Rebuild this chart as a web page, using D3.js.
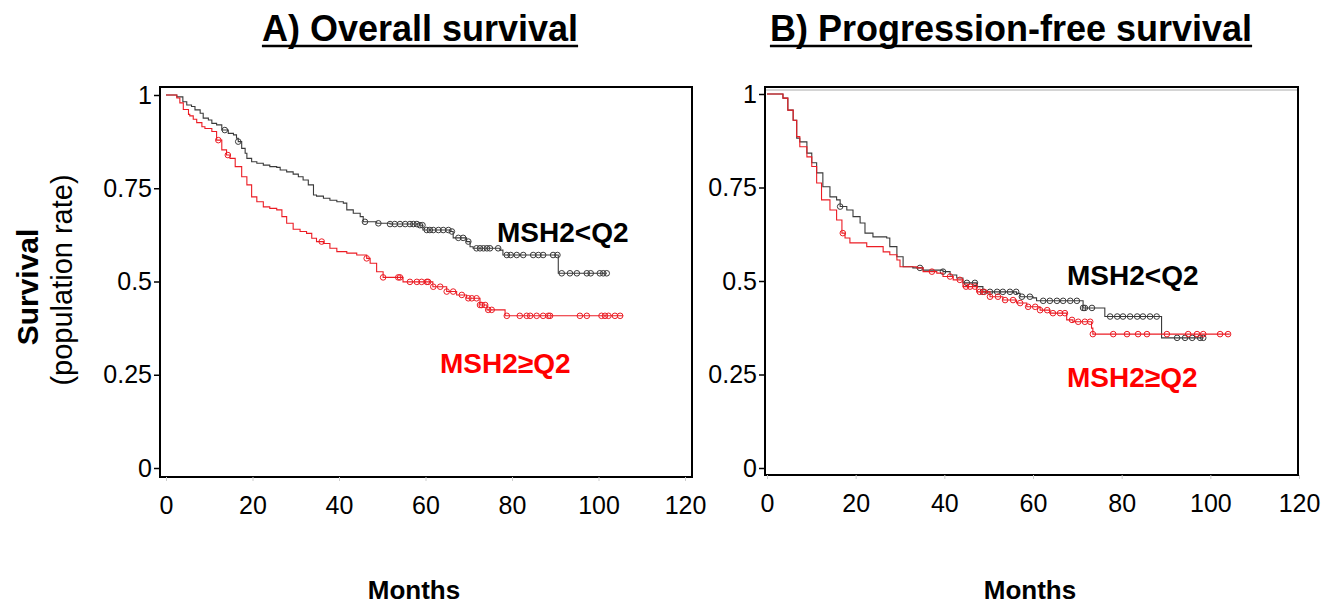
<!DOCTYPE html>
<html>
<head>
<meta charset="utf-8">
<script src="https://cdn.jsdelivr.net/npm/d3@7"></script>
<style>
  body { margin: 0; background: #fff; }
  svg { display: block; font-family: "Liberation Sans", Arial, sans-serif; }
</style>
</head>
<body>
<svg id="chart" width="1328" height="607"></svg>
<script>
// ---- data (months, survival after each step) ----

// A) overall survival, MSH2<Q2
const osLowTime = [2.5, 3.9, 4.8, 5.9, 6.7, 7.9, 8.6, 9.8, 10.6, 11.7, 12.9, 14.4, 15.6, 16.3, 16.7, 17.5, 18.3, 18.7,
  19.8, 21.0, 22.5, 24.0, 25.6, 26.4, 27.9, 29.4, 30.6, 31.7, 32.9, 34.1, 34.8, 36.4, 37.9, 39.5, 41.0, 41.8, 43.3,
  44.9, 45.6, 48.7, 51.8, 58.7, 59.4, 65.7, 66.4, 69.5, 70.3, 71.0, 77.2, 77.9, 90.7];
const osLowSurv = [0.995, 0.982, 0.973, 0.969, 0.960, 0.951, 0.938, 0.933, 0.924, 0.920, 0.906, 0.897, 0.893, 0.884,
  0.875, 0.857, 0.844, 0.830, 0.821, 0.817, 0.812, 0.808, 0.806, 0.799, 0.794, 0.788, 0.781, 0.772, 0.759, 0.732,
  0.729, 0.723, 0.718, 0.714, 0.710, 0.692, 0.683, 0.674, 0.660, 0.656, 0.654, 0.651, 0.638, 0.634, 0.617, 0.607,
  0.593, 0.589, 0.584, 0.571, 0.522];
const osLowEnd = 101.9;
const osLowCensor = [13.6, 16.7, 46.0, 49.1, 51.8, 52.9, 54.1, 55.3, 56.4, 57.2, 58.0, 58.7, 59.3, 60.3, 61.0, 61.8,
  63.0, 64.1, 65.3, 66.1, 67.6, 68.7, 69.9, 71.8, 72.6, 73.4, 74.2, 74.9, 76.8, 78.8, 79.7, 81.1, 82.6, 84.9, 86.1,
  87.2, 89.5, 90.5, 91.5, 93.4, 95.0, 97.3, 98.2, 100.3, 101.1, 101.9];

// A) overall survival, MSH2>=Q2
const osHighTime = [2.5, 3.2, 4.0, 5.2, 5.5, 6.3, 7.1, 8.3, 9.0, 10.6, 11.7, 12.9, 14.0, 14.8, 16.0, 17.5, 18.7,
  19.8, 21.0, 22.5, 24.0, 25.6, 26.8, 27.9, 29.4, 31.0, 32.5, 33.7, 34.8, 36.4, 37.9, 39.5, 41.8, 44.1, 46.4, 47.2,
  48.7, 50.2, 54.8, 61.7, 64.9, 67.2, 69.5, 72.6, 74.2, 78.4];
const osHighSurv = [0.992, 0.979, 0.961, 0.948, 0.944, 0.935, 0.926, 0.915, 0.910, 0.902, 0.879, 0.853, 0.839, 0.830,
  0.808, 0.781, 0.759, 0.727, 0.714, 0.700, 0.696, 0.692, 0.674, 0.656, 0.640, 0.634, 0.629, 0.616, 0.607, 0.602,
  0.589, 0.580, 0.576, 0.571, 0.562, 0.549, 0.526, 0.511, 0.499, 0.486, 0.473, 0.464, 0.455, 0.437, 0.424, 0.408];
const osHighEnd = 105.7;
const osHighCensor = [12.1, 14.3, 36.0, 46.4, 50.2, 53.7, 54.1, 56.4, 58.0, 59.1, 60.3, 60.6, 61.8, 63.4, 64.9, 66.4,
  68.4, 69.9, 70.7, 71.8, 72.6, 73.0, 73.8, 74.5, 75.3, 78.8, 81.8, 83.4, 84.2, 85.7, 87.2, 88.4, 88.8, 95.7, 97.3,
  100.7, 101.5, 102.3, 103.8, 105.0];

// B) progression-free survival, MSH2<Q2
const pfsLowTime = [3.6, 4.7, 5.9, 6.7, 7.4, 9.0, 10.1, 11.2, 12.6, 14.2, 15.7, 16.5, 18.0, 19.4, 21.0, 22.1, 23.9,
  27.0, 27.7, 29.3, 30.7, 32.9, 35.2, 39.7, 41.3, 42.8, 44.2, 47.3, 48.7, 56.3, 57.1, 60.0, 60.8, 71.3, 76.2, 89.0];
const pfsLowSurv = [0.989, 0.957, 0.930, 0.882, 0.872, 0.842, 0.816, 0.789, 0.752, 0.725, 0.717, 0.699, 0.690, 0.672,
  0.655, 0.628, 0.618, 0.615, 0.592, 0.565, 0.538, 0.535, 0.529, 0.525, 0.516, 0.508, 0.495, 0.485, 0.471, 0.467,
  0.458, 0.455, 0.447, 0.428, 0.405, 0.348];
const pfsLowEnd = 98.4;
const pfsLowCensor = [16.5, 34.5, 39.7, 45.1, 46.9, 48.7, 50.3, 51.9, 53.2, 54.8, 56.2, 57.5, 59.3, 62.3, 63.8, 65.4,
  66.8, 68.4, 69.9, 71.3, 71.7, 73.3, 77.4, 79.0, 80.3, 81.9, 83.5, 84.8, 86.4, 87.9, 92.5, 94.3, 95.9, 97.7, 98.4];

// B) progression-free survival, MSH2>=Q2
const pfsHighTime = [3.6, 4.7, 5.9, 6.7, 7.4, 9.0, 10.1, 11.2, 12.3, 14.2, 15.7, 16.9, 17.6, 18.7, 22.5, 26.2, 27.7,
  29.3, 30.0, 33.8, 35.2, 38.3, 39.7, 42.0, 44.2, 47.3, 50.3, 53.2, 56.3, 58.6, 61.6, 63.8, 67.6, 69.0, 73.2, 73.5];
const pfsHighSurv = [0.989, 0.957, 0.930, 0.886, 0.859, 0.832, 0.806, 0.762, 0.717, 0.690, 0.663, 0.628, 0.615, 0.602,
  0.592, 0.578, 0.570, 0.556, 0.538, 0.535, 0.525, 0.521, 0.512, 0.503, 0.485, 0.471, 0.458, 0.449, 0.441, 0.431,
  0.422, 0.414, 0.396, 0.391, 0.374, 0.358];
const pfsHighEnd = 104.4;
const pfsHighCensor = [17.1, 37.2, 41.3, 43.5, 44.9, 45.8, 46.9, 48.0, 49.0, 50.3, 52.1, 53.7, 55.5, 57.1, 58.9, 60.5,
  61.6, 63.2, 64.5, 66.1, 67.2, 68.8, 70.2, 71.7, 72.9, 73.5, 78.1, 81.2, 83.7, 85.7, 90.2, 95.0, 97.0, 98.4, 102.2,
  104.0];

const xTicks = [0, 20, 40, 60, 80, 100, 120];
const yTicks = [0, 0.25, 0.5, 0.75, 1];
const groupLabels = ["MSH2<Q2", "MSH2\u2265Q2"];

// ---- helpers ----
const lowColor = "#3a3a3a";
const highColor = "#ec1c24";

// step points of a Kaplan-Meier curve
function kmPoints(times, surv, end) {
  const pts = [[0, 1]];
  times.forEach((t, i) => pts.push([t, surv[i]]));
  pts.push([end, surv[surv.length - 1]]);
  return pts;
}

// survival level at a given time (for placing censor marks)
function survAt(times, surv, t) {
  let s = 1;
  times.forEach((ti, i) => { if (ti <= t) s = surv[i]; });
  return s;
}

const svg = d3.select("#chart");

function drawPanel(p) {
  const g = svg.append("g");
  const x = d3.scaleLinear().domain([0, 120]).range(p.xRange);
  const y = d3.scaleLinear().domain([0, 1]).range(p.yRange);

  // title with underline
  const title = g.append("text")
    .attr("x", p.titleX)
    .attr("y", 41)
    .attr("text-anchor", "middle")
    .style("font-size", "36px")
    .style("font-weight", "bold")
    .text(p.title);
  const tw = title.node().getComputedTextLength();
  g.append("line")
    .attr("x1", p.titleX - tw / 2).attr("x2", p.titleX + tw / 2)
    .attr("y1", 46).attr("y2", 46)
    .attr("stroke", "#000").attr("stroke-width", 2.5);

  // plot box
  g.append("rect")
    .attr("x", p.box.l).attr("y", p.box.t)
    .attr("width", p.box.r - p.box.l).attr("height", p.box.b - p.box.t)
    .attr("fill", "#fff").attr("stroke", "#000").attr("stroke-width", 2);
  if (p.topRule) {
    g.append("line")
      .attr("x1", p.box.l + 1).attr("x2", p.box.r - 1)
      .attr("y1", p.box.t + 3).attr("y2", p.box.t + 3)
      .attr("stroke", "#aaa").attr("stroke-width", 1);
  }

  // axes
  const yAxis = g.append("g")
    .attr("transform", `translate(${p.box.l},0)`)
    .call(d3.axisLeft(y).tickValues(yTicks).tickFormat(d3.format("~g")).tickSize(6).tickPadding(2));
  yAxis.select(".domain").remove();
  yAxis.selectAll("line").attr("stroke", "#000").attr("stroke-width", 1.5);
  yAxis.selectAll("text").attr("fill", "#000").style("font-size", "25px").style("font-family", "inherit");

  const xAxis = g.append("g")
    .attr("transform", `translate(0,${p.box.b})`)
    .call(d3.axisBottom(x).tickValues(xTicks).tickSize(4).tickPadding(15));
  xAxis.select(".domain").remove();
  xAxis.selectAll("line").attr("stroke", "#ccc");
  xAxis.selectAll("text").attr("fill", "#000").style("font-size", "25px").style("font-family", "inherit");

  g.append("text")
    .attr("x", p.monthsX).attr("y", 599)
    .attr("text-anchor", "middle")
    .style("font-size", "26px").style("font-weight", "bold")
    .text("Months");

  // curves
  const line = d3.line().x(d => x(d[0])).y(d => y(d[1])).curve(d3.curveStepAfter);
  p.series.forEach(s => {
    g.append("path")
      .datum(kmPoints(s.time, s.surv, s.end))
      .attr("fill", "none")
      .attr("stroke", s.color)
      .attr("stroke-width", 1.1)
      .attr("d", line);
    g.append("g").selectAll("circle")
      .data(s.censor)
      .join("circle")
      .attr("cx", d => x(d))
      .attr("cy", d => y(survAt(s.time, s.surv, d)))
      .attr("r", 2.8)
      .attr("fill", "none")
      .attr("stroke", s.color)
      .attr("stroke-width", 1);
  });

  // group labels
  p.labels.forEach((l, i) => {
    g.append("text")
      .attr("x", l.x).attr("y", l.y)
      .attr("fill", i === 0 ? "#000" : "#ff0000")
      .style("font-size", "28px").style("font-weight", "bold")
      .text(groupLabels[i]);
  });
}

drawPanel({
  title: "A) Overall survival",
  titleX: 420,
  box: { l: 160, r: 692, t: 87, b: 477 },
  xRange: [166, 685],
  yRange: [468, 95],
  monthsX: 414,
  labels: [{ x: 497, y: 242 }, { x: 440, y: 373 }],
  series: [
    { time: osLowTime, surv: osLowSurv, end: osLowEnd, censor: osLowCensor, color: lowColor },
    { time: osHighTime, surv: osHighSurv, end: osHighEnd, censor: osHighCensor, color: highColor }
  ]
});

drawPanel({
  title: "B) Progression-free survival",
  titleX: 1011,
  box: { l: 765, r: 1298, t: 87, b: 475 },
  xRange: [767, 1299],
  yRange: [468, 94],
  monthsX: 1030,
  topRule: true,
  labels: [{ x: 1067, y: 285 }, { x: 1067, y: 387 }],
  series: [
    { time: pfsLowTime, surv: pfsLowSurv, end: pfsLowEnd, censor: pfsLowCensor, color: lowColor },
    { time: pfsHighTime, surv: pfsHighSurv, end: pfsHighEnd, censor: pfsHighCensor, color: highColor }
  ]
});

// shared y-axis title
const yTitle = svg.append("g").attr("transform", "translate(38,287) rotate(-90)");
yTitle.append("text")
  .attr("text-anchor", "middle")
  .style("font-size", "30px").style("font-weight", "bold")
  .text("Survival");
svg.append("text")
  .attr("transform", "translate(72,280) rotate(-90)")
  .attr("text-anchor", "middle")
  .style("font-size", "29px")
  .text("(population rate)");
</script>
</body>
</html>
